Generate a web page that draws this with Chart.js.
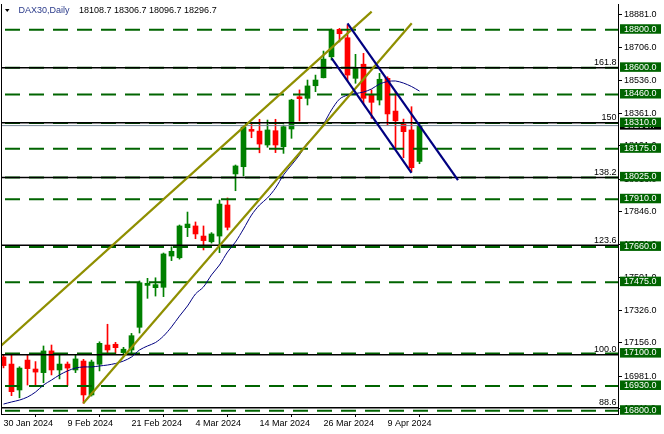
<!DOCTYPE html>
<html><head><meta charset="utf-8">
<script src="https://cdn.jsdelivr.net/npm/chart.js@4.4.1/dist/chart.umd.min.js"></script>
<style>html,body{margin:0;padding:0;background:#fff;overflow:hidden}</style>
</head><body>
<canvas id="c" width="664" height="434"></canvas>
<script>
const dates = ['30 Jan 2024','31 Jan 2024','1 Feb 2024','2 Feb 2024','5 Feb 2024','6 Feb 2024','7 Feb 2024','8 Feb 2024',
'9 Feb 2024','12 Feb 2024','13 Feb 2024','14 Feb 2024','15 Feb 2024','16 Feb 2024','19 Feb 2024','20 Feb 2024',
'21 Feb 2024','22 Feb 2024','23 Feb 2024','26 Feb 2024','27 Feb 2024','28 Feb 2024','29 Feb 2024','1 Mar 2024',
'4 Mar 2024','5 Mar 2024','6 Mar 2024','7 Mar 2024','8 Mar 2024','11 Mar 2024','12 Mar 2024','13 Mar 2024',
'14 Mar 2024','15 Mar 2024','18 Mar 2024','19 Mar 2024','20 Mar 2024','21 Mar 2024','22 Mar 2024','25 Mar 2024',
'26 Mar 2024','27 Mar 2024','28 Mar 2024','2 Apr 2024','3 Apr 2024','4 Apr 2024','5 Apr 2024','8 Apr 2024',
'9 Apr 2024','10 Apr 2024','11 Apr 2024','12 Apr 2024','15 Apr 2024'];
const opens  = [17082,17045,16909,17066,17019,17000,17114,17014,17045,17014,17061,16883,17044,17145,17149,17105,17119,17238,17458,17446,17448,17612,17603,17761,17770,17717,17687,17717,17880,18043,18081,18277,18268,18195,18270,18186,18279,18448,18440,18506,18548,18658,18802,18758,18545,18619,18461,18431,18545,18373,18305,18274,18108.7];
const highs  = [17095,17093,17031,17093,17058,17140,17145,17093,17056,17093,17070,17066,17162,17254,17159,17133,17206,17481,17495,17498,17628,17661,17775,17843,17791,17770,17735,17906,17917,18090,18295,18309,18330,18326,18330,18300,18435,18484,18536,18562,18688,18804,18807,18825,18671,18676,18484,18571,18553,18475,18331,18396,18306.7];
const lows   = [17025,16879,16868,16935,16931,16947,16988,16967,16931,17000,16839,16877,17009,17105,17101,17093,17093,17208,17390,17402,17399,17588,17596,17714,17703,17644,17680,17630,17749,17955,18032,18233,18154,18183,18155,18151,18230,18321,18405,18475,18547,18641,18736,18531,18519,18414,18335,18405,18300,18178,18128,18055,18096.7];
const closes = [17037,16900,17024,17021,17003,17114,17014,17045,17024,17072,16883,17056,17154,17119,17131,17123,17194,17472,17469,17462,17623,17637,17770,17780,17728,17693,17728,17885,17763,18085,18289,18267,18200,18274,18195,18291,18431,18438,18505,18536,18646,18799,18779,18562,18598,18440,18419,18540,18358,18322,18265,18076,18296.7];
const maLine = [16835,16846,16856,16872,16898,16935,16961,16988,17009,17024,17030,17030,17035,17040,17048,17061,17082,17119,17140,17158,17192,17240,17297,17350,17413,17450,17513,17565,17633,17686,17754,17827,17880,17917,17969,18038,18090,18143,18206,18247,18305,18379,18436,18457,18465,18473,18489,18515,18528,18531,18520,18502,18478];
const xTickIdx = [0,8,16,24,32,40,48];
const yTicks = [18881,18706,18536,18361,18191,18016,17846,17671,17501,17326,17156,16981,16811];
const levels = [18800,18600,18460,18310,18175,18025,17910,17660,17475,17100,16930,16800];
const fibLevels = [16816,17094,17669,18025,18312,18600];
const fibLabels = ['88.6','100.0','123.6','138.2','150','161.8'];
const lastPrice = 18296.7;
const olive1 = [[-0.4375,17136],[46.02,18895]];
const olive2 = [[9.975,16839],[51.03,18834]];
const navy1  = [[43.0,18834],[56.81,18011]];
const navy2  = [[41.03,18650],[51.0,18048]];

const X_MIN = -0.3125, X_MAX = 76.8125, Y_MIN = 16782.9, Y_MAX = 18935.1;
const GREEN = '#008000', RED = '#ff0000', DKGREEN = '#006400';
const FONT = '"Liberation Sans", Arial, sans-serif';
const candleColor = c => closes[c.dataIndex] >= opens[c.dataIndex] ? GREEN : RED;
const pts = a => a.map(p => ({x: p[0], y: p[1]}));

const datasets = [];
datasets.push({type:'bar', data: dates.map((d,i)=>({x:i, y:[lows[i], highs[i]]})), barThickness:1, grouped:false, backgroundColor:candleColor, borderWidth:0, order:20});
datasets.push({type:'bar', data: dates.map((d,i)=>({x:i, y:[opens[i], closes[i]]})), barThickness:5, grouped:false, minBarLength:1, backgroundColor:candleColor, borderWidth:0, order:19});
levels.forEach(v => datasets.push({type:'line', data:[{x:X_MIN,y:v},{x:X_MAX,y:v}], borderColor:DKGREEN, borderWidth:2, borderDash:[15,9], borderDashOffset:20, pointRadius:0, order:15, clip:0}));
fibLevels.forEach(v => datasets.push({type:'line', data:[{x:X_MIN,y:v},{x:X_MAX,y:v}], borderColor:'#000', borderWidth:1.5, pointRadius:0, order:14, clip:0}));
datasets.push({type:'line', data:[{x:X_MIN,y:lastPrice},{x:X_MAX,y:lastPrice}], borderColor:'#778899', borderWidth:1, pointRadius:0, order:13, clip:0});
datasets.push({type:'line', data: maLine.map((v,i)=>({x:i,y:v})), borderColor:'#000080', borderWidth:1, pointRadius:0, tension:0.3, order:12});
[olive1, olive2].forEach(a => datasets.push({type:'line', data:pts(a), borderColor:'#8f8f00', borderWidth:2.2, pointRadius:0, order:2, clip:0}));
[navy1, navy2].forEach(a => datasets.push({type:'line', data:pts(a), borderColor:'#000080', borderWidth:2.2, pointRadius:0, order:1, clip:0}));

const decor = {
  id:'decor',
  afterDraw(chart){
    const ctx = chart.ctx, a = chart.chartArea, ys = chart.scales.y;
    ctx.save();
    // left frame
    ctx.strokeStyle = '#000'; ctx.lineWidth = 1;
    ctx.beginPath(); ctx.moveTo(a.left+0.5, a.top); ctx.lineTo(a.left+0.5, a.bottom); ctx.stroke();
    ctx.font = '9px ' + FONT;
    // fib labels
    ctx.fillStyle = '#000'; ctx.textAlign = 'right'; ctx.textBaseline = 'alphabetic';
    fibLevels.forEach((v,i) => ctx.fillText(fibLabels[i], a.right - 1.5, ys.getPixelForValue(v) - 2.5));
    // price labels
    ctx.textAlign = 'left'; ctx.textBaseline = 'middle';
    const box = (v, bg, txt) => {
      const py = ys.getPixelForValue(v);
      ctx.fillStyle = bg; ctx.fillRect(a.right + 2, py - 5.5, 41, 9.5);
      ctx.fillStyle = '#fff'; ctx.fillText(txt, a.right + 6, py - 0.6);
    };
    box(lastPrice, '#000', lastPrice.toFixed(1));
    levels.forEach(v => box(v, DKGREEN, v.toFixed(1)));
    // header
    ctx.fillStyle = '#000';
    ctx.beginPath(); ctx.moveTo(5,9); ctx.lineTo(9.5,9); ctx.lineTo(7.25,12); ctx.closePath(); ctx.fill();
    ctx.textBaseline = 'middle';
    ctx.fillStyle = '#2a3a8a'; ctx.fillText('DAX30,Daily', 18.5, 11);
    ctx.fillStyle = '#000';
    ctx.fillText([opens[52],highs[52],lows[52],closes[52]].map(v=>v.toFixed(1)).join(' '), 79, 11);
    ctx.restore();
  }
};

new Chart(document.getElementById('c'), {
  type:'bar',
  data:{datasets},
  options:{
    responsive:false, animation:false, devicePixelRatio:1,
    layout:{padding:{left:1, top:4, right:0, bottom:0}},
    plugins:{legend:{display:false}, tooltip:{enabled:false}},
    scales:{
      x:{type:'linear', min:X_MIN, max:X_MAX, position:'bottom', offset:false,
        afterBuildTicks: s => { s.ticks = xTickIdx.map(v => ({value:v})); },
        afterFit: s => { s.height = 20; s.paddingLeft = 0; s.paddingRight = 0; },
        ticks:{autoSkip:false, maxRotation:0, minRotation:0, align:'start', padding:1, color:'#000', font:{family:FONT, size:9},
          callback: v => dates[v] || ''},
        grid:{drawOnChartArea:false, drawTicks:true, tickLength:3, color:'#000'},
        border:{display:true, color:'#000', width:1}},
      y:{type:'linear', position:'right', min:Y_MIN, max:Y_MAX,
        afterBuildTicks: s => { s.ticks = yTicks.map(v => ({value:v})); },
        afterFit: s => { s.width = 46; s.paddingTop = 0; s.paddingBottom = 0; },
        ticks:{padding:2, color:'#000', font:{family:FONT, size:9}, callback: v => Number(v).toFixed(1)},
        grid:{drawOnChartArea:false, drawTicks:true, tickLength:4, color:'#000'},
        border:{display:true, color:'#000', width:1}}
    }
  },
  plugins:[decor]
});
</script>
</body></html>
